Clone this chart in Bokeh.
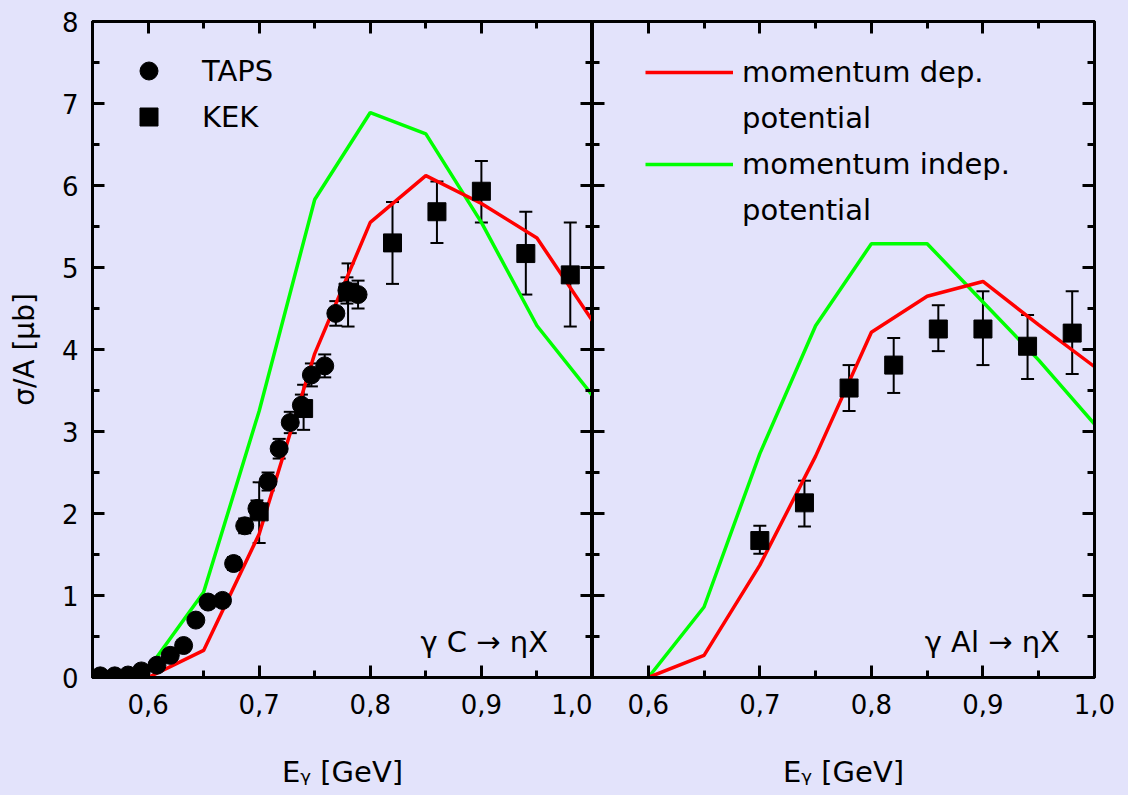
from bokeh.plotting import figure
from bokeh.models import (Range1d, LinearAxis, FixedTicker, Whisker, TeeHead,
                          ColumnDataSource, Legend, LegendItem, Label,
                          CustomJSTickFormatter)
from bokeh.layouts import row
from bokeh.embed import file_html
from bokeh.resources import INLINE

BG = "#E3E3FB"
FONT = "DejaVu Sans"
RED = "#FF0000"
GREEN = "#00FF00"

# ---------------- data ----------------
E_theory = [0.60, 0.65, 0.70, 0.75, 0.80, 0.85, 0.90, 0.95, 1.00]
c_mom_dep = [0.00, 0.33, 1.75, 3.95, 5.55, 6.12, 5.78, 5.36, 4.35]
c_mom_indep = [0.10, 1.04, 3.25, 5.83, 6.89, 6.63, 5.55, 4.29, 3.44]
al_mom_dep = [0.00, 0.27, 1.37, 2.70, 4.21, 4.65, 4.83, 4.30, 3.79]
al_mom_indep = [0.00, 0.86, 2.73, 4.29, 5.29, 5.29, 4.58, 3.87, 3.09]

taps_E = [0.557, 0.570, 0.582, 0.594, 0.608, 0.620, 0.632, 0.643, 0.654, 0.667, 0.677,
          0.687, 0.698, 0.708, 0.718, 0.728, 0.738, 0.747, 0.759, 0.769, 0.779, 0.789]
taps_c = [0.02, 0.02, 0.03, 0.08, 0.15, 0.27, 0.39, 0.70, 0.92, 0.94, 1.39,
          1.85, 2.06, 2.39, 2.79, 3.11, 3.32, 3.69, 3.80, 4.44, 4.72, 4.67]
taps_err = [0.02, 0.02, 0.02, 0.03, 0.04, 0.05, 0.05, 0.06, 0.07, 0.07, 0.08,
            0.09, 0.10, 0.11, 0.12, 0.13, 0.13, 0.14, 0.14, 0.15, 0.16, 0.17]

kek_E = [0.70, 0.74, 0.78, 0.82, 0.86, 0.90, 0.94, 0.98]
kek_c = [2.02, 3.28, 4.70, 5.30, 5.68, 5.93, 5.17, 4.91]
kek_c_lo = [1.64, 3.02, 4.28, 4.80, 5.30, 5.55, 4.67, 4.28]
kek_c_hi = [2.38, 3.57, 5.05, 5.80, 6.05, 6.30, 5.68, 5.55]
kek_al = [1.67, 2.13, 3.53, 3.81, 4.25, 4.25, 4.04, 4.20]
kek_al_lo = [1.51, 1.84, 3.25, 3.47, 3.98, 3.81, 3.64, 3.70]
kek_al_hi = [1.85, 2.40, 3.81, 4.14, 4.54, 4.71, 4.42, 4.71]

x_major = [0.6, 0.7, 0.8, 0.9, 1.0]
x_minor = [0.55, 0.65, 0.75, 0.85, 0.95]
y_major = [0, 1, 2, 3, 4, 5, 6, 7, 8]
y_minor = [0.5, 1.5, 2.5, 3.5, 4.5, 5.5, 6.5, 7.5]


def comma_fmt():
    return CustomJSTickFormatter(code="return tick.toFixed(1).replace('.', ',');")


def blank_fmt():
    return CustomJSTickFormatter(code="return '';")


def style_axis(ax, ticks, minor, labels, fmt=None):
    ax.ticker = FixedTicker(ticks=ticks, minor_ticks=minor)
    ax.major_tick_in = 12
    ax.major_tick_out = 0
    ax.minor_tick_in = 7
    ax.minor_tick_out = 0
    ax.axis_line_width = 3
    ax.axis_line_color = "black"
    ax.major_tick_line_width = 3
    ax.minor_tick_line_width = 3
    ax.major_tick_line_color = "black"
    ax.minor_tick_line_color = "black"
    ax.major_label_text_font = FONT
    ax.major_label_text_color = "black"
    if labels:
        ax.major_label_text_font_size = "26px"
        if fmt is not None:
            ax.formatter = fmt
    else:
        ax.formatter = blank_fmt()
        ax.major_label_text_font_size = "4px"
        ax.major_label_standoff = 0


def make_fig(left_border, right_border, fw):
    p = figure(frame_width=fw, frame_height=656,
               x_range=Range1d(0.55, 1.0), y_range=Range1d(0, 8),
               output_backend="svg", toolbar_location=None,
               min_border_left=left_border, min_border_right=right_border,
               min_border_top=21, min_border_bottom=118,
               background_fill_color=BG, border_fill_color=BG,
               outline_line_color="black", outline_line_width=3)
    p.xgrid.visible = False
    p.ygrid.visible = False
    return p


def x_title(ax):
    ax.axis_label = "Eᵧ [GeV]"
    ax.axis_label_text_font = FONT
    ax.axis_label_text_font_size = "29px"
    ax.axis_label_text_font_style = "normal"
    ax.axis_label_text_color = "black"
    ax.axis_label_standoff = 38


def add_errors(p, src):
    p.add_layout(Whisker(base="x", upper="hi", lower="lo", source=src,
                         line_width=2, line_color="black",
                         upper_head=TeeHead(size=13, line_width=2, line_color="black"),
                         lower_head=TeeHead(size=13, line_width=2, line_color="black")))


# ---------------- left panel: gamma C ----------------
p1 = make_fig(92, 0, 500)
style_axis(p1.xaxis[0], x_major, x_minor, True, comma_fmt())
p1.xaxis[0].major_label_standoff = 16
x_title(p1.xaxis[0])
style_axis(p1.yaxis[0], y_major, y_minor, True)
p1.yaxis[0].major_label_standoff = 14
p1.yaxis[0].axis_label = "σ/A [μb]"
p1.yaxis[0].axis_label_text_font = FONT
p1.yaxis[0].axis_label_text_font_size = "28px"
p1.yaxis[0].axis_label_text_font_style = "normal"
p1.yaxis[0].axis_label_text_color = "black"
p1.yaxis[0].axis_label_standoff = 18
top1 = LinearAxis()
style_axis(top1, x_major, x_minor, False)
p1.add_layout(top1, "above")
right1 = LinearAxis()
style_axis(right1, y_major, y_minor, False)
p1.add_layout(right1, "right")

p1.line(E_theory, c_mom_indep, line_color=GREEN, line_width=3.5)
p1.line(E_theory, c_mom_dep, line_color=RED, line_width=3.5)

src_kek_c = ColumnDataSource(dict(x=kek_E, y=kek_c, lo=kek_c_lo, hi=kek_c_hi))
add_errors(p1, src_kek_c)
src_taps = ColumnDataSource(dict(x=taps_E, y=taps_c,
                                 lo=[v - e for v, e in zip(taps_c, taps_err)],
                                 hi=[v + e for v, e in zip(taps_c, taps_err)]))
add_errors(p1, src_taps)
r_kek1 = p1.scatter("x", "y", source=src_kek_c, marker="square", size=18,
                    fill_color="black", line_color="black")
r_taps = p1.scatter("x", "y", source=src_taps, marker="circle", size=18,
                    fill_color="black", line_color="black")

leg1 = Legend(items=[LegendItem(label="TAPS", renderers=[r_taps]),
                     LegendItem(label="KEK", renderers=[r_kek1])],
              location=(34, 538), orientation="vertical",
              border_line_color=None, background_fill_alpha=0,
              label_text_font=FONT, label_text_font_size="29px",
              label_text_color="black",
              glyph_width=45, glyph_height=45, label_height=45,
              spacing=1, padding=0, margin=0, label_standoff=31)
p1.add_layout(leg1)

p1.add_layout(Label(x=0.96, y=0.43, text="γ C → ηX", text_font=FONT,
                    text_font_size="29px", text_align="right",
                    text_baseline="alphabetic", text_color="black"))

# ---------------- right panel: gamma Al ----------------
p2 = make_fig(0, 34, 502)
style_axis(p2.xaxis[0], x_major, x_minor, True, comma_fmt())
p2.xaxis[0].major_label_standoff = 16
x_title(p2.xaxis[0])
style_axis(p2.yaxis[0], y_major, y_minor, False)
top2 = LinearAxis()
style_axis(top2, x_major, x_minor, False)
p2.add_layout(top2, "above")
right2 = LinearAxis()
style_axis(right2, y_major, y_minor, False)
p2.add_layout(right2, "right")

r_green = p2.line(E_theory, al_mom_indep, line_color=GREEN, line_width=3.5)
r_red = p2.line(E_theory, al_mom_dep, line_color=RED, line_width=3.5)
src_kek_al = ColumnDataSource(dict(x=kek_E, y=kek_al, lo=kek_al_lo, hi=kek_al_hi))
add_errors(p2, src_kek_al)
p2.scatter("x", "y", source=src_kek_al, marker="square", size=18,
           fill_color="black", line_color="black")
r_blank = p2.line(x=[], y=[], line_alpha=0)

leg2 = Legend(items=[LegendItem(label="momentum dep.", renderers=[r_red]),
                     LegendItem(label="potential", renderers=[r_blank]),
                     LegendItem(label="momentum indep.", renderers=[r_green]),
                     LegendItem(label="potential", renderers=[r_blank])],
              location=(53, 447), orientation="vertical",
              border_line_color=None, background_fill_alpha=0,
              label_text_font=FONT, label_text_font_size="29px",
              label_text_color="black",
              glyph_width=88, glyph_height=40, label_height=40,
              spacing=6, padding=0, margin=0, label_standoff=9)
p2.add_layout(leg2)

p2.add_layout(Label(x=0.969, y=0.43, text="γ Al → ηX", text_font=FONT,
                    text_font_size="29px", text_align="right",
                    text_baseline="alphabetic", text_color="black"))

layout = row(p1, p2, spacing=0, styles={"background-color": BG})
open("out.html", "w").write(file_html(layout, INLINE))
